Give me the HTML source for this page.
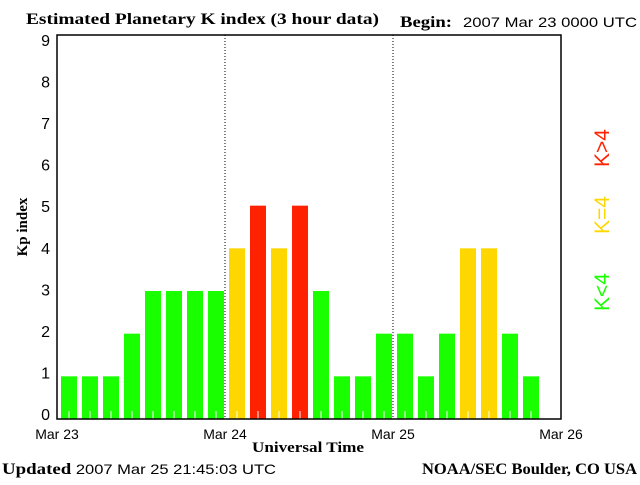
<!DOCTYPE html>
<html><head><meta charset="utf-8"><style>
body{margin:0;background:#fff;width:640px;height:480px;overflow:hidden}
text{font-family:"Liberation Sans",sans-serif}
.s{font-family:"Liberation Serif",serif;font-weight:bold}
</style></head><body>
<svg id="c" width="640" height="480">
<text class="s" x="26" y="24" font-size="16" textLength="353" lengthAdjust="spacingAndGlyphs">Estimated Planetary K index (3 hour data)</text>
<text class="s" x="400" y="27" font-size="16" textLength="52" lengthAdjust="spacingAndGlyphs">Begin:</text>
<text x="463" y="27" font-size="14" textLength="174" lengthAdjust="spacingAndGlyphs">2007 Mar 23 0000 UTC</text>
<text class="s" transform="translate(27,227) rotate(-90)" text-anchor="middle" font-size="15">Kp index</text>
<text class="s" x="308" y="452" text-anchor="middle" font-size="15" textLength="112" lengthAdjust="spacingAndGlyphs">Universal Time</text>
<text x="2" y="474" font-size="14" textLength="274" lengthAdjust="spacingAndGlyphs"><tspan class="s" font-size="16">Updated</tspan> 2007 Mar 25 21:45:03 UTC</text>
<text class="s" x="637" y="474" text-anchor="end" font-size="16" textLength="215" lengthAdjust="spacingAndGlyphs">NOAA/SEC Boulder, CO USA</text>
<text transform="translate(609,292) rotate(-90)" text-anchor="middle" font-size="21" fill="#1aff00">K&lt;4</text>
<text transform="translate(609,215) rotate(-90)" text-anchor="middle" font-size="21" fill="#ffd700">K=4</text>
<text transform="translate(609,148) rotate(-90)" text-anchor="middle" font-size="21" fill="#ff2200">K&gt;4</text>
<g id="g"></g>
</svg>
<script>
const dayLabels=["Mar 23","Mar 24","Mar 25","Mar 26"];
const yTicks=[0,1,2,3,4,5,6,7,8,9];
const kpValues=[1,1,1,2,3,3,3,3, 4,5,4,5,3,1,1,2, 2,1,2,4,4,2,1];
const NS="http://www.w3.org/2000/svg";
const g=document.getElementById('g');
const X0=57,X1=561,Y0=419,YT=35;
const x=i=>X0+i*(X1-X0)/24;
const y=v=>Y0-v*(Y0-YT)/9;
const yl=v=>414-v*(414-40)/9;
function mk(t,a,p){const e=document.createElementNS(NS,t);for(const k in a)e.setAttribute(k,a[k]);(p||g).appendChild(e);return e;}
kpValues.forEach((v,i)=>{
 const col=v<4?"#1aff00":(v==4?"#ffd700":"#ff2200");
 const r=mk('rect',{x:x(i)+4,y:y(v),width:16,height:Y0-y(v),fill:col});
 
 
 const t=mk('line',{x1:x(i)+12,x2:x(i)+12,y1:Y0,y2:Y0-8,stroke:'#fff'});
 
 
});
[1,2].forEach(d=>{
 const l=mk('line',{x1:x(d*8),x2:x(d*8),y1:YT,y2:Y0,stroke:'#000','stroke-dasharray':'1,2'});
 
 
});
const f=mk('rect',{x:X0,y:YT,width:X1-X0,height:Y0-YT,fill:'none',stroke:'#000','stroke-width':1.5});


yTicks.forEach(v=>{
 const t=mk('text',{x:50,y:yl(v)+6,'text-anchor':'end','font-size':16});
 t.textContent=v;
 
 
});
dayLabels.forEach((s,d)=>{
 const t=mk('text',{x:x(d*8),y:439,'text-anchor':'middle','font-size':14});
 t.textContent=s;
 
 
});
</script>
</body></html>
